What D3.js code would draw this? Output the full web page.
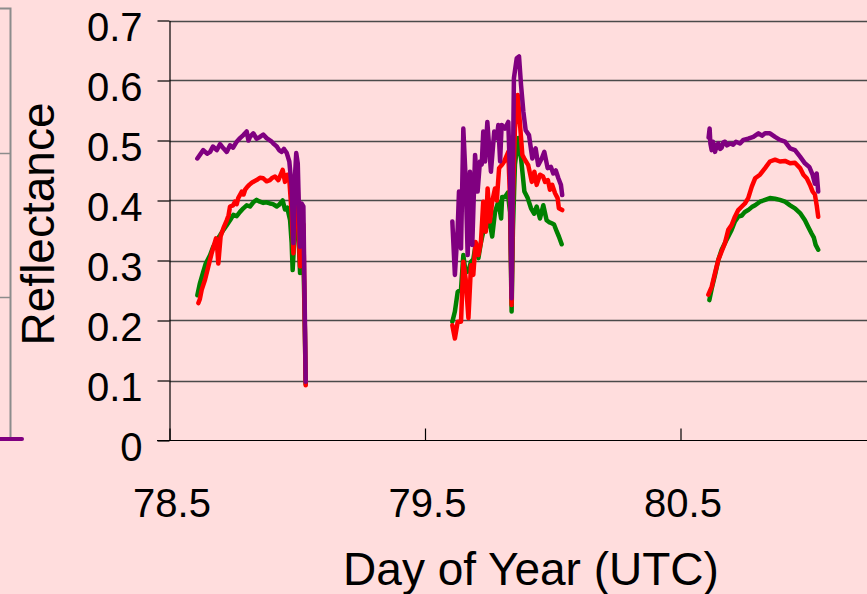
<!DOCTYPE html>
<html>
<head>
<meta charset="utf-8">
<script src="https://cdn.jsdelivr.net/npm/d3@7"></script>
<style>
  html, body { margin: 0; padding: 0; background: #FFDDDD; }
  svg { display: block; }
  text { font-family: "Liberation Sans", Arial, sans-serif; fill: #000; }
</style>
</head>
<body>
<svg id="chart" width="867" height="594"></svg>
<script>
// ---- Data ----
const xTickValues = [78.5, 79.5, 80.5];
const xTickLabels = ["78.5", "79.5", "80.5"];
const yTickValues = [0, 0.1, 0.2, 0.3, 0.4, 0.5, 0.6, 0.7];
const yTickLabels = ["0", "0.1", "0.2", "0.3", "0.4", "0.5", "0.6", "0.7"];
const xTitle = "Day of Year (UTC)";
const yTitle = "Reflectance";

// [day, reflectance]; null separates the three daytime segments
const purple = [
  [78.609,0.470],[78.632,0.484],[78.647,0.478],[78.659,0.481],[78.670,0.490],[78.685,0.484],
  [78.698,0.494],[78.711,0.487],[78.724,0.481],[78.737,0.492],[78.749,0.488],[78.763,0.498],
  [78.776,0.504],[78.789,0.509],[78.802,0.515],[78.809,0.500],[78.815,0.506],[78.828,0.512],
  [78.841,0.503],[78.854,0.506],[78.867,0.510],[78.880,0.504],[78.900,0.498],[78.909,0.494],
  [78.920,0.490],[78.929,0.484],[78.939,0.481],[78.948,0.486],[78.959,0.479],[78.969,0.465],
  [78.978,0.423],[78.985,0.329],[78.991,0.440],[78.996,0.479],[79.002,0.462],[79.007,0.380],
  [79.011,0.323],[79.017,0.395],[79.024,0.390],[79.030,0.200],[79.033,0.098],
  null,
  [79.607,0.365],[79.617,0.276],[79.628,0.354],[79.633,0.415],[79.641,0.320],[79.650,0.520],
  [79.659,0.437],[79.667,0.309],[79.676,0.448],[79.685,0.326],[79.696,0.476],[79.706,0.415],
  [79.715,0.465],[79.722,0.460],[79.728,0.515],[79.735,0.465],[79.744,0.531],[79.758,0.448],
  [79.771,0.515],[79.781,0.504],[79.787,0.526],[79.794,0.465],[79.800,0.526],[79.813,0.520],
  [79.826,0.531],[79.833,0.437],[79.839,0.237],[79.844,0.450],[79.848,0.604],[79.859,0.637],
  [79.868,0.640],[79.876,0.592],[79.885,0.548],[79.894,0.517],[79.907,0.509],[79.920,0.470],
  [79.933,0.487],[79.943,0.459],[79.957,0.470],[79.967,0.481],[79.980,0.454],[79.993,0.456],
  [80.002,0.445],[80.012,0.450],[80.022,0.437],[80.032,0.426],[80.037,0.409],
  null,
  [80.610,0.505],[80.614,0.520],[80.617,0.495],[80.622,0.484],[80.627,0.498],[80.635,0.481],
  [80.642,0.492],[80.648,0.495],[80.655,0.486],[80.661,0.488],[80.668,0.497],[80.674,0.498],
  [80.682,0.492],[80.694,0.495],[80.706,0.493],[80.717,0.498],[80.733,0.495],[80.746,0.501],
  [80.765,0.503],[80.785,0.506],[80.805,0.512],[80.819,0.508],[80.831,0.512],[80.850,0.512],
  [80.870,0.506],[80.889,0.501],[80.909,0.498],[80.929,0.487],[80.948,0.484],[80.968,0.473],
  [80.987,0.462],[81.004,0.456],[81.017,0.443],[81.026,0.428],[81.033,0.445],[81.039,0.415]
];

const red = [
  [78.613,0.229],[78.619,0.236],[78.626,0.251],[78.639,0.268],[78.652,0.290],[78.665,0.312],
  [78.674,0.325],[78.682,0.337],[78.687,0.320],[78.691,0.295],[78.700,0.340],[78.711,0.354],
  [78.724,0.367],[78.731,0.375],[78.737,0.390],[78.749,0.392],[78.756,0.398],[78.763,0.394],
  [78.769,0.404],[78.783,0.415],[78.790,0.410],[78.796,0.418],[78.803,0.422],[78.812,0.426],
  [78.823,0.430],[78.841,0.434],[78.854,0.438],[78.867,0.437],[78.880,0.432],[78.893,0.434],
  [78.903,0.438],[78.913,0.440],[78.926,0.434],[78.934,0.442],[78.943,0.451],[78.952,0.431],
  [78.961,0.443],[78.969,0.434],[78.978,0.380],[78.985,0.312],[78.991,0.400],[78.996,0.423],
  [79.002,0.420],[79.007,0.330],[79.011,0.290],[79.017,0.367],[79.024,0.360],[79.030,0.180],
  [79.033,0.092],
  null,
  [79.607,0.192],[79.617,0.170],[79.628,0.198],[79.641,0.198],[79.650,0.298],[79.659,0.270],
  [79.670,0.204],[79.680,0.292],[79.689,0.276],[79.698,0.331],[79.709,0.309],[79.719,0.331],
  [79.728,0.398],[79.738,0.348],[79.745,0.420],[79.754,0.365],[79.763,0.398],[79.774,0.420],
  [79.781,0.400],[79.790,0.454],[79.800,0.459],[79.810,0.465],[79.826,0.481],[79.833,0.400],
  [79.839,0.226],[79.844,0.400],[79.852,0.520],[79.863,0.576],[79.872,0.526],[79.881,0.476],
  [79.891,0.468],[79.904,0.459],[79.918,0.431],[79.928,0.448],[79.937,0.426],[79.950,0.443],
  [79.962,0.440],[79.970,0.431],[79.981,0.434],[79.989,0.418],[79.998,0.426],[80.009,0.412],
  [80.019,0.404],[80.024,0.387],[80.037,0.384],
  null,
  [80.609,0.243],[80.622,0.256],[80.635,0.279],[80.648,0.301],[80.661,0.315],[80.674,0.329],
  [80.687,0.351],[80.700,0.359],[80.713,0.373],[80.726,0.384],[80.740,0.390],[80.752,0.395],
  [80.765,0.404],[80.779,0.423],[80.792,0.437],[80.811,0.443],[80.831,0.454],[80.850,0.465],
  [80.870,0.468],[80.889,0.465],[80.909,0.466],[80.929,0.462],[80.948,0.463],[80.968,0.454],
  [80.981,0.443],[80.994,0.437],[81.007,0.426],[81.017,0.415],[81.026,0.410],[81.033,0.392],
  [81.039,0.373]
];

const green = [
  [78.609,0.242],[78.619,0.262],[78.632,0.281],[78.642,0.295],[78.659,0.309],[78.671,0.323],
  [78.685,0.334],[78.698,0.342],[78.711,0.351],[78.724,0.359],[78.737,0.367],[78.750,0.376],
  [78.763,0.374],[78.776,0.381],[78.789,0.387],[78.802,0.392],[78.815,0.390],[78.828,0.397],
  [78.841,0.401],[78.854,0.398],[78.867,0.396],[78.880,0.397],[78.893,0.395],[78.905,0.394],
  [78.920,0.390],[78.929,0.393],[78.943,0.400],[78.952,0.385],[78.961,0.388],[78.972,0.367],
  [78.978,0.330],[78.982,0.284],[78.989,0.340],[78.996,0.390],[79.002,0.385],[79.007,0.320],
  [79.011,0.279],[79.017,0.320],[79.024,0.310],[79.030,0.180],[79.033,0.094],
  null,
  [79.607,0.198],[79.617,0.215],[79.628,0.248],[79.641,0.252],[79.650,0.309],[79.659,0.280],
  [79.670,0.282],[79.680,0.298],[79.689,0.302],[79.698,0.326],[79.709,0.304],[79.719,0.330],
  [79.728,0.348],[79.738,0.352],[79.745,0.370],[79.754,0.362],[79.763,0.340],[79.774,0.381],
  [79.787,0.398],[79.798,0.370],[79.802,0.406],[79.813,0.406],[79.824,0.413],[79.833,0.380],
  [79.839,0.215],[79.844,0.350],[79.852,0.460],[79.865,0.504],[79.876,0.470],[79.889,0.415],
  [79.902,0.404],[79.915,0.387],[79.927,0.378],[79.937,0.390],[79.950,0.370],[79.963,0.392],
  [79.976,0.367],[79.985,0.364],[79.996,0.362],[80.005,0.360],[80.016,0.348],[80.024,0.340],
  [80.035,0.327],
  null,
  [80.613,0.234],[80.622,0.253],[80.635,0.276],[80.648,0.301],[80.661,0.318],[80.674,0.329],
  [80.687,0.340],[80.700,0.351],[80.713,0.365],[80.726,0.373],[80.740,0.375],[80.752,0.381],
  [80.765,0.384],[80.779,0.389],[80.792,0.392],[80.811,0.398],[80.831,0.401],[80.850,0.404],
  [80.870,0.403],[80.889,0.401],[80.909,0.398],[80.929,0.392],[80.948,0.387],[80.968,0.379],
  [80.987,0.367],[81.000,0.356],[81.013,0.345],[81.022,0.338],[81.029,0.326],[81.039,0.318]
];

const seriesList = [
  { name: "green", data: green, color: "#008000" },
  { name: "red", data: red, color: "#FF0000" },
  { name: "purple", data: purple, color: "#800080" }
];

// ---- Layout ----
const svg = d3.select("#chart");
const W = 867, H = 594;
const x = d3.scaleLinear().domain([78.5, 81.5]).range([169.5, 936]);
const y = d3.scaleLinear().domain([0, 0.7]).range([440.5, 20.5]);

svg.append("rect").attr("width", W).attr("height", H).attr("fill", "#FFDDDD");

// partial neighbouring chart frame at the far left
const frag = svg.append("g");
frag.append("path").attr("d", "M0,8.5H10.5V440").attr("fill", "none")
  .attr("stroke", "#8c8c8c").attr("stroke-width", 2);
[153.5, 297.5].forEach(v => frag.append("line")
  .attr("x1", 0).attr("x2", 10).attr("y1", v).attr("y2", v)
  .attr("stroke", "#8c8c8c").attr("stroke-width", 1.5));
frag.append("line").attr("x1", 0).attr("x2", 22).attr("y1", 439).attr("y2", 439)
  .attr("stroke", "#800080").attr("stroke-width", 4).attr("stroke-linecap", "round");

// gridlines
svg.append("g").selectAll("line").data(yTickValues.filter(v => v > 0)).join("line")
  .attr("x1", 169.5).attr("x2", W)
  .attr("y1", d => Math.round(y(d)) + 0.5).attr("y2", d => Math.round(y(d)) + 0.5)
  .attr("stroke", "#4a4a4a").attr("stroke-width", 1.4);

// series
const line = d3.line()
  .defined(d => d !== null)
  .x(d => x(d[0]))
  .y(d => y(d[1]));

svg.append("g").selectAll("path").data(seriesList).join("path")
  .attr("d", s => line(s.data))
  .attr("fill", "none")
  .attr("stroke", s => s.color)
  .attr("stroke-width", 4.5)
  .attr("stroke-linejoin", "round")
  .attr("stroke-linecap", "round");

// y axis
const yAxis = d3.axisLeft(y)
  .tickValues(yTickValues)
  .tickFormat((d, i) => yTickLabels[i])
  .tickSizeInner(12).tickSizeOuter(0).tickPadding(15);
const gy = svg.append("g").attr("transform", "translate(169.5,0)").call(yAxis);
gy.selectAll("path, line").attr("stroke", "#000").attr("stroke-width", 1.2);
gy.selectAll("text").attr("font-size", 40).attr("dy", "0.5em")
  .style("font-family", "'Liberation Sans', Arial, sans-serif");

// x axis
const xAxis = d3.axisBottom(x)
  .tickValues(xTickValues)
  .tickFormat((d, i) => xTickLabels[i])
  .tickSizeInner(-12).tickSizeOuter(0);
const gx = svg.append("g").attr("transform", "translate(0,440.5)").call(xAxis);
gx.select(".domain").attr("d", `M157,0H${W}`);
gx.selectAll("path, line").attr("stroke", "#000").attr("stroke-width", 1.2);
gx.selectAll("text").attr("font-size", 40).attr("y", 76.5).attr("dy", 0).attr("dx", 2)
  .style("font-family", "'Liberation Sans', Arial, sans-serif");

// titles
svg.append("text").attr("x", 531).attr("y", 585).attr("text-anchor", "middle")
  .attr("font-size", 46).text(xTitle);
svg.append("text").attr("transform", "translate(54,224) rotate(-90)")
  .attr("text-anchor", "middle").attr("font-size", 46).text(yTitle);
</script>
</body>
</html>
